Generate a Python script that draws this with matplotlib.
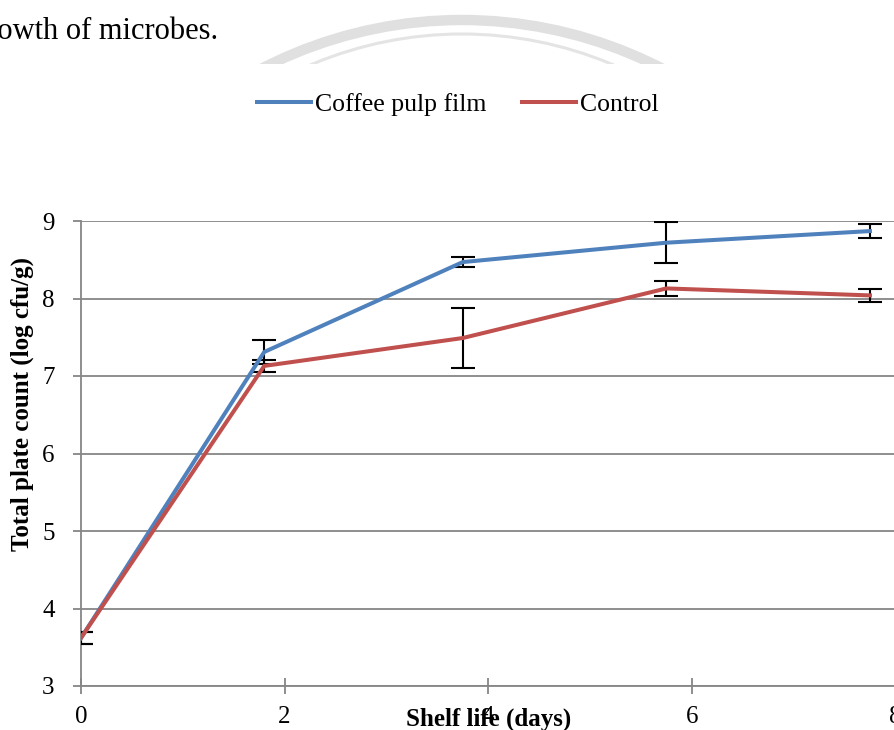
import matplotlib.pyplot as plt
from matplotlib.patches import Arc

plt.rcParams['font.family'] = ['Liberation Serif', 'DejaVu Serif']

# Shelf life data (log cfu/g), mean +/- SD
days = [0, 1.8, 3.75, 5.75, 7.75]
coffee = [3.62, 7.31, 8.47, 8.72, 8.87]
coffee_err = [0.08, 0.16, 0.065, 0.265, 0.09]
control = [3.62, 7.13, 7.49, 8.13, 8.04]
control_err = [0.08, 0.08, 0.39, 0.10, 0.08]

W, H = 894, 730
fig = plt.figure(figsize=(W / 100, H / 100), dpi=100)

# leftover line of the page text above the figure
fig.text(218 / W, 1 - 39 / H, 'growth of microbes.', ha='right', va='baseline', fontsize=22)

# faint watermark arcs, cut off at the top band
wm = fig.add_axes([0, 1 - 64 / H, 1, 64 / H])
wm.set_xlim(0, W)
wm.set_ylim(64, 0)
wm.axis('off')
wm.add_patch(Arc((462, 457), 2 * 437, 2 * 437, theta1=180, theta2=360, color='#e0e0e0', lw=7.5))
wm.add_patch(Arc((462, 421), 2 * 387, 2 * 387, theta1=180, theta2=360, color='#e4e4e4', lw=2.2))

ax = fig.add_axes([81 / W, (H - 686) / H, 814.4 / W, 465 / H])

grid_c = '#868686'
for y, err, col, lab in [(coffee, coffee_err, '#4F81BD', 'Coffee pulp film'),
                         (control, control_err, '#C0504D', 'Control')]:
    ax.errorbar(days, y, yerr=err, fmt='none', ecolor='black', elinewidth=1.5,
                capsize=8.5, capthick=1.5, zorder=3)
    ax.plot(days, y, color=col, lw=2.9, label=lab, zorder=4, solid_joinstyle='miter')

ax.set_xlim(0, 8)
ax.set_ylim(3, 9)
ax.set_xticks([0, 2, 4, 6, 8])
ax.set_yticks(range(3, 10))
ax.yaxis.grid(True, color=grid_c, lw=1.3)
ax.set_axisbelow(True)
for s in ['top', 'right']:
    ax.spines[s].set_visible(False)
for s in ['left', 'bottom']:
    ax.spines[s].set_color(grid_c)
    ax.spines[s].set_linewidth(1.3)
ax.tick_params(axis='x', direction='inout', length=11, width=1.3, color=grid_c,
               labelsize=18, pad=9)
ax.tick_params(axis='y', direction='out', length=6, width=1.3, color=grid_c,
               labelsize=18, pad=13)

ax.set_xlabel('Shelf life (days)', fontsize=18, fontweight='bold')
ax.xaxis.label.set_va('baseline')
ax.xaxis.set_label_coords(0.5, (686 - 725.5) / 465)
ax.set_ylabel('Total plate count (log cfu/g)', fontsize=18, fontweight='bold')
ax.yaxis.label.set_va('center')
ax.yaxis.set_label_coords((22 - 81) / 814.4, (686 - 404) / 465)

fig.legend(loc='center', bbox_to_anchor=(458 / W, 1 - 105 / H), ncol=2, frameon=False,
           fontsize=18.5, handlelength=2.1, handletextpad=0.15, columnspacing=1.4)

fig.savefig('out.png', dpi=100)
